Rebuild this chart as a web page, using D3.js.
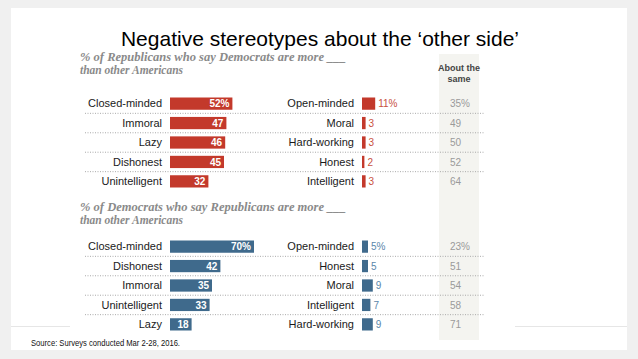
<!DOCTYPE html>
<html>
<head>
<meta charset="utf-8">
<script src="https://cdn.jsdelivr.net/npm/d3@7"></script>
<style>
  body { margin: 0; background: #f0f0f0; }
  svg { display: block; font-family: 'Liberation Sans', Arial, sans-serif; }
</style>
</head>
<body>
<div id="chart"></div>
<script>
// negative trait / positive trait / "about the same" for each panel
var repNegLabels = ['Closed-minded', 'Immoral', 'Lazy', 'Dishonest', 'Unintelligent']
var repNegValues = [52, 47, 46, 45, 32]
var repPosLabels = ['Open-minded', 'Moral', 'Hard-working', 'Honest', 'Intelligent']
var repPosValues = [11, 3, 3, 2, 3]
var repSameValues = [35, 49, 50, 52, 64]

var demNegLabels = ['Closed-minded', 'Dishonest', 'Immoral', 'Unintelligent', 'Lazy']
var demNegValues = [70, 42, 35, 33, 18]
var demPosLabels = ['Open-minded', 'Honest', 'Moral', 'Intelligent', 'Hard-working']
var demPosValues = [5, 5, 9, 7, 9]
var demSameValues = [23, 51, 54, 58, 71]

var W = 638
var H = 359

var svg = d3.select('#chart').append('svg')
  .attr('width', W)
  .attr('height', H)

// slide
svg.append('rect').attr('width', W).attr('height', H).attr('fill', '#f0f0f0')
svg.append('rect')
  .attr('x', 11).attr('y', 8).attr('width', 616).attr('height', 342)
  .attr('fill', '#fff')
svg.append('line').attr('x1', 11).attr('x2', 70).attr('y1', 326.5).attr('y2', 326.5)
  .attr('stroke', '#e6e6e6')
svg.append('line').attr('x1', 515).attr('x2', 627).attr('y1', 326.5).attr('y2', 326.5)
  .attr('stroke', '#e6e6e6')

svg.append('text')
  .attr('x', 320).attr('y', 46)
  .attr('text-anchor', 'middle')
  .attr('font-size', 21)
  .attr('fill', '#000')
  .text('Negative stereotypes about the \u2018other side\u2019')

// about the same column
svg.append('rect')
  .attr('x', 439).attr('y', 54).attr('width', 40).attr('height', 286)
  .attr('fill', '#f4f4f0')
svg.append('text')
  .attr('x', 459).attr('y', 71)
  .attr('text-anchor', 'middle')
  .attr('font-size', 9).attr('font-weight', 'bold').attr('fill', '#444')
  .selectAll('tspan')
  .data(['About the', 'same'])
  .enter().append('tspan')
  .attr('x', 459)
  .attr('dy', function (d, i) { return i === 0 ? 0 : 11 })
  .text(function (d) { return d })

var x = d3.scaleLinear().domain([0, 100]).range([0, 120])
var negX0 = 170
var posX0 = 362
var negLabelX = 162
var posLabelX = 354
var sameX = 450

function drawPanel (cfg) {
  var g = svg.append('g')

  cfg.subtitle.forEach(function (line, i) {
    g.append('text')
      .attr('font-family', "'Liberation Serif', Georgia, serif")
      .attr('font-style', 'italic').attr('font-weight', 'bold')
      .attr('font-size', 11.5).attr('fill', '#8a8a8a')
      .attr('x', 80)
      .attr('y', cfg.subY + i * 13)
      .attr('textLength', i === 0 ? 266 : null)
      .attr('lengthAdjust', 'spacingAndGlyphs')
      .text(line)
  })

  var y = d3.scaleBand()
    .domain(d3.range(cfg.negLabels.length))
    .range(cfg.yRange)
    .paddingInner(0.37)
    .paddingOuter(0.18)
  var step = y.step()

  // dotted separators
  g.selectAll('.sep')
    .data(d3.range(1, cfg.negLabels.length))
    .enter().append('line')
    .attr('x1', 85).attr('x2', 484)
    .attr('y1', function (i) { return y(i) - (step - y.bandwidth()) / 2 })
    .attr('y2', function (i) { return y(i) - (step - y.bandwidth()) / 2 })
    .attr('stroke', '#aaa')
    .attr('stroke-dasharray', '1,1.5')

  var rows = cfg.negLabels.map(function (d, i) {
    return {
      i: i,
      neg: d,
      negV: cfg.negValues[i],
      pos: cfg.posLabels[i],
      posV: cfg.posValues[i],
      same: cfg.sameValues[i]
    }
  })

  var row = g.selectAll('.row')
    .data(rows)
    .enter().append('g')
    .attr('transform', function (d) { return 'translate(0,' + y(d.i) + ')' })

  var bh = y.bandwidth()
  var mid = bh / 2 + 3.7

  row.append('text')
    .attr('x', negLabelX).attr('y', mid)
    .attr('text-anchor', 'end')
    .attr('font-size', 11).attr('fill', '#1a1a1a')
    .text(function (d) { return d.neg })

  row.append('rect')
    .attr('x', negX0).attr('y', 0)
    .attr('width', function (d) { return x(d.negV) })
    .attr('height', bh)
    .attr('fill', cfg.color)

  row.append('text')
    .attr('x', function (d) { return negX0 + x(d.negV) - 3 })
    .attr('y', mid)
    .attr('text-anchor', 'end')
    .attr('font-size', 10).attr('font-weight', 'bold').attr('fill', '#fff')
    .text(function (d) { return d.negV + (d.i === 0 ? '%' : '') })

  row.append('text')
    .attr('x', posLabelX).attr('y', mid)
    .attr('text-anchor', 'end')
    .attr('font-size', 11).attr('fill', '#1a1a1a')
    .text(function (d) { return d.pos })

  row.append('rect')
    .attr('x', posX0).attr('y', 0)
    .attr('width', function (d) { return x(d.posV) })
    .attr('height', bh)
    .attr('fill', cfg.color)

  row.append('text')
    .attr('x', function (d) { return posX0 + x(d.posV) + 3 })
    .attr('y', mid)
    .attr('font-size', 10).attr('fill', cfg.textColor)
    .text(function (d) { return d.posV + (d.i === 0 ? '%' : '') })

  row.append('text')
    .attr('x', sameX).attr('y', mid)
    .attr('font-size', 10).attr('fill', '#9a9a9a')
    .text(function (d) { return d.same + (d.i === 0 ? '%' : '') })
}

drawPanel({
  subtitle: ['% of Republicans who say Democrats are more ___', 'than other Americans'],
  subY: 61,
  yRange: [94, 191],
  negLabels: repNegLabels,
  negValues: repNegValues,
  posLabels: repPosLabels,
  posValues: repPosValues,
  sameValues: repSameValues,
  color: '#c3392b',
  textColor: '#c8513f'
})

drawPanel({
  subtitle: ['% of Democrats who say Republicans are more ___', 'than other Americans'],
  subY: 211,
  yRange: [237, 334],
  negLabels: demNegLabels,
  negValues: demNegValues,
  posLabels: demPosLabels,
  posValues: demPosValues,
  sameValues: demSameValues,
  color: '#3f6a8c',
  textColor: '#5a86aa'
})

svg.append('text')
  .attr('x', 31).attr('y', 346)
  .attr('font-size', 9).attr('fill', '#111')
  .attr('textLength', 149).attr('lengthAdjust', 'spacingAndGlyphs')
  .text('Source: Surveys conducted Mar 2-28, 2016.')
</script>
</body>
</html>
